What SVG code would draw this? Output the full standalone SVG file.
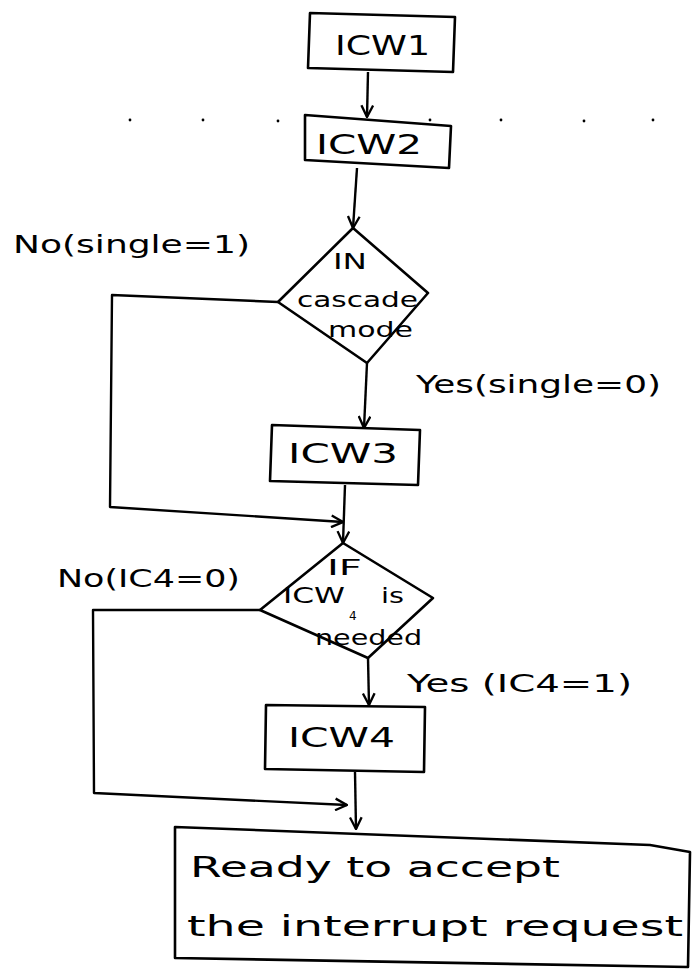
<svg xmlns="http://www.w3.org/2000/svg" width="693" height="971" viewBox="0 0 693 971">
  <style>
    .shape { fill: none; stroke: #000; stroke-width: 2.6; stroke-linejoin: round; }
    .wire { fill: none; stroke: #000; stroke-width: 2.4; stroke-linejoin: round; }
    .t { font-family: "DejaVu Sans", "Liberation Sans", sans-serif; fill: #000; }
    .box { font-size: 27px; }
    .lbl { font-size: 24px; }
    .dia { font-size: 22px; }
    .sub { font-size: 12px; }
    .big { font-size: 29px; }
    .dot { fill: #000; }
  </style>
  <defs>
    <marker id="arrow" viewBox="0 0 12 12" refX="11" refY="6" markerWidth="14" markerHeight="14" markerUnits="userSpaceOnUse" orient="auto">
      <path d="M1,1 L11,6 L1,11" fill="none" stroke="#000" stroke-width="2"/>
    </marker>
  </defs>
  <rect width="693" height="971" fill="#fff"/>

  <!-- specks along the ruled row -->
  <g id="specks">
    <circle class="dot" cx="130" cy="120" r="1.4"/>
    <circle class="dot" cx="203" cy="120" r="1.4"/>
    <circle class="dot" cx="278" cy="121" r="1.4"/>
    <circle class="dot" cx="430" cy="120" r="1.4"/>
    <circle class="dot" cx="501" cy="120" r="1.4"/>
    <circle class="dot" cx="584" cy="121" r="1.4"/>
    <circle class="dot" cx="653" cy="120" r="1.4"/>
  </g>

  <g id="connectors">
    <path class="wire" d="M368,72 L367,117" marker-end="url(#arrow)"/>
    <path class="wire" d="M357,168 L353,228" marker-end="url(#arrow)"/>
    <path class="wire" d="M278,302 L112,295 L110,507 L343,522" marker-end="url(#arrow)"/>
    <path class="wire" d="M367,363 L364,428" marker-end="url(#arrow)"/>
    <path class="wire" d="M345,485 L343,543" marker-end="url(#arrow)"/>
    <path class="wire" d="M260,610 L93,610 L94,793 L347,805" marker-end="url(#arrow)"/>
    <path class="wire" d="M368,658 L369,705" marker-end="url(#arrow)"/>
    <path class="wire" d="M355,772 L356,829" marker-end="url(#arrow)"/>
  </g>

  <g id="icw1">
    <polygon class="shape" points="310,13 455,17 453,72 308,68"/>
    <text class="t box" x="335" y="55" textLength="95" lengthAdjust="spacingAndGlyphs">ICW1</text>
  </g>

  <g id="icw2">
    <polygon class="shape" points="305,115 451,126 449,168 305,160"/>
    <text class="t box" x="316" y="154" textLength="106" lengthAdjust="spacingAndGlyphs">ICW2</text>
  </g>

  <g id="cascade-check">
    <polygon class="shape" points="353,228 428,293 367,363 278,302"/>
    <text class="t dia" x="333" y="269" textLength="34" lengthAdjust="spacingAndGlyphs">IN</text>
    <text class="t dia" x="297" y="307" textLength="121" lengthAdjust="spacingAndGlyphs">cascade</text>
    <text class="t dia" x="328" y="337" textLength="85" lengthAdjust="spacingAndGlyphs">mode</text>
  </g>

  <g id="icw3">
    <polygon class="shape" points="272,425 420,430 418,485 270,481"/>
    <text class="t box" x="288" y="463" textLength="110" lengthAdjust="spacingAndGlyphs">ICW3</text>
  </g>

  <g id="icw4-check">
    <polygon class="shape" points="343,543 433,598 368,658 260,610"/>
    <text class="t dia" x="327" y="575" textLength="35" lengthAdjust="spacingAndGlyphs">IF</text>
    <text class="t dia" x="283" y="603" textLength="62" lengthAdjust="spacingAndGlyphs">ICW</text>
    <text class="t sub" x="349" y="620">4</text>
    <text class="t dia" x="381" y="603" textLength="23" lengthAdjust="spacingAndGlyphs">is</text>
    <text class="t dia" x="315" y="645" textLength="107" lengthAdjust="spacingAndGlyphs">needed</text>
  </g>

  <g id="icw4">
    <polygon class="shape" points="266,705 425,707 424,772 265,769"/>
    <text class="t box" x="288" y="747" textLength="107" lengthAdjust="spacingAndGlyphs">ICW4</text>
  </g>

  <g id="ready">
    <polygon class="shape" points="175,827 650,845 690,852 688,967 175,958"/>
    <text class="t big" x="190" y="877" textLength="370" lengthAdjust="spacingAndGlyphs">Ready to accept</text>
    <text class="t big" x="187" y="936" textLength="496" lengthAdjust="spacingAndGlyphs">the interrupt request</text>
  </g>

  <g id="labels">
    <text class="t lbl" x="13" y="253" textLength="237" lengthAdjust="spacingAndGlyphs">No(single=1)</text>
    <text class="t lbl" x="416" y="393" textLength="245" lengthAdjust="spacingAndGlyphs">Yes(single=0)</text>
    <text class="t lbl" x="57" y="587" textLength="183" lengthAdjust="spacingAndGlyphs">No(IC4=0)</text>
    <text class="t lbl" x="407" y="692" textLength="225" lengthAdjust="spacingAndGlyphs">Yes (IC4=1)</text>
  </g>
</svg>
